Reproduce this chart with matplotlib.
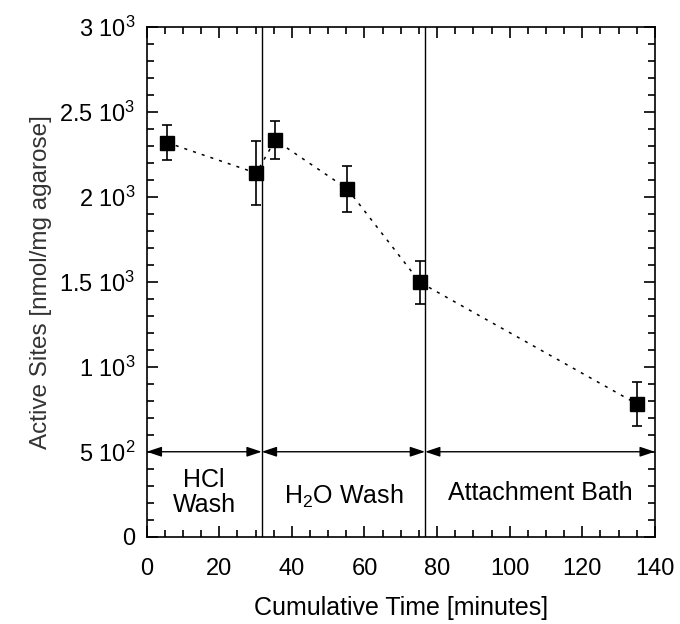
import matplotlib
matplotlib.use("Agg")
import matplotlib.pyplot as plt
from matplotlib.ticker import MultipleLocator, FixedLocator

plt.rcParams["font.family"] = ["Liberation Sans", "DejaVu Sans"]
plt.rcParams["mathtext.fontset"] = "custom"
plt.rcParams["mathtext.rm"] = "Liberation Sans"
plt.rcParams["mathtext.it"] = "Liberation Sans"

# data
time_min = [5.6, 30.2, 35.4, 55.3, 75.3, 135.1]
active_sites = [2320, 2140, 2335, 2047, 1497, 781]
site_err = [105, 188, 110, 137, 128, 128]

phase_bounds = [0, 31.7, 76.7, 140]
phase_names = ["HCl\nWash", "H$_2$O Wash", "Attachment Bath"]
phase_text_y = [260, 235, 257]
arrow_y = 500

ytick_vals = [0, 500, 1000, 1500, 2000, 2500, 3000]
ytick_labels = ["0", "5 10$^2$", "1 10$^3$", "1.5 10$^3$", "2 10$^3$", "2.5 10$^3$", "3 10$^3$"]

fig = plt.figure(figsize=(6.8, 6.24), dpi=100)
ax = fig.add_axes([0.2157, 0.1399, 0.963 - 0.2157, 0.9567 - 0.1399])

ax.plot(time_min, active_sites, color="black", lw=1.1, linestyle=(0, (2, 4)))
ax.errorbar(time_min, active_sites, yerr=site_err, fmt="s", color="black",
            ms=9.5, capsize=3.5, elinewidth=1.2, capthick=1.2, ls="none")

for xb in phase_bounds[1:-1]:
    ax.axvline(xb, color="black", lw=1.0)

for i, name in enumerate(phase_names):
    x0, x1 = phase_bounds[i], phase_bounds[i + 1]
    ax.annotate("", xy=(x1, arrow_y), xytext=(x0, arrow_y),
                arrowprops=dict(arrowstyle="<|-|>,head_length=0.9,head_width=0.3",
                                color="black", lw=1.0, shrinkA=0, shrinkB=0))
    ax.text((x0 + x1) / 2, phase_text_y[i], name, ha="center", va="center",
            fontsize=18, linespacing=1.05)

ax.set_xlim(0, 140)
ax.set_ylim(0, 3000)
ax.xaxis.set_major_locator(MultipleLocator(20))
ax.xaxis.set_minor_locator(MultipleLocator(5))
ax.yaxis.set_major_locator(FixedLocator(ytick_vals))
ax.yaxis.set_minor_locator(MultipleLocator(100))
ax.set_yticklabels(ytick_labels)

ax.tick_params(which="both", direction="in", top=True, right=True, labelsize=17, width=1.2)
ax.tick_params(which="major", length=8.2)
ax.tick_params(axis="y", which="major", pad=8)
ax.tick_params(axis="x", which="major", pad=15)
ax.tick_params(which="minor", length=4.8)
for sp in ax.spines.values():
    sp.set_linewidth(1.2)

ax.set_xlabel("Cumulative Time [minutes]", fontsize=18, labelpad=12)
ax.set_ylabel("Active Sites [nmol/mg agarose]", fontsize=17.5, labelpad=5, color="#333333")

plt.savefig("out.png", dpi=100)
plt.close()
